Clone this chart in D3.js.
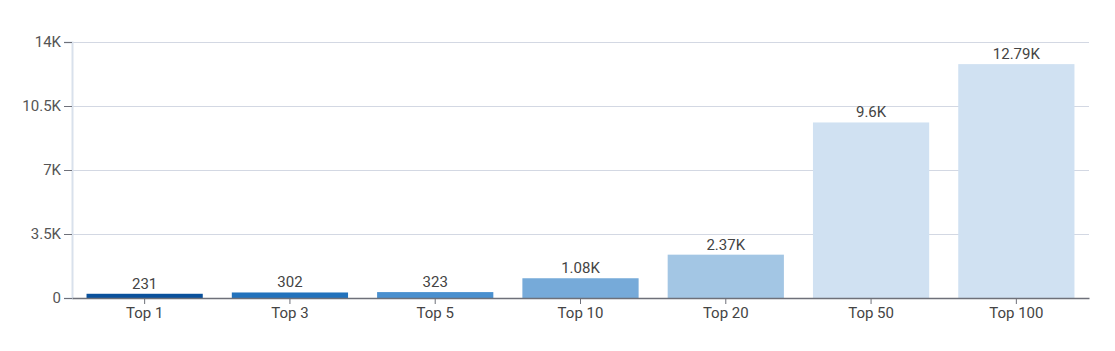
<!DOCTYPE html>
<html>
<head>
<meta charset="utf-8">
<script src="https://cdn.jsdelivr.net/npm/d3@7"></script>
<style>
  body { margin: 0; background: #fff; }
  text { font-family: Roboto, "Noto Sans", sans-serif; }
</style>
</head>
<body>
<div id="chart"></div>
<script>
// data
const categories = ["Top 1", "Top 3", "Top 5", "Top 10", "Top 20", "Top 50", "Top 100"];
const values = [231, 302, 323, 1080, 2370, 9600, 12790];
const barColors = ["#0a519c", "#2272bc", "#4a90cf", "#76aad9", "#a3c6e4", "#d0e1f2", "#d0e1f2"];
const yTicks = [0, 3500, 7000, 10500, 14000];

const width = 1115, height = 351;
const margin = { top: 42, right: 26, bottom: 53, left: 72 };
const innerW = width - margin.left - margin.right;
const innerH = height - margin.top - margin.bottom;

const svg = d3.select("#chart").append("svg")
    .attr("width", width)
    .attr("height", height);

const g = svg.append("g")
    .attr("transform", `translate(${margin.left},${margin.top})`);

const x = d3.scaleBand()
    .domain(categories)
    .range([0, innerW])
    .paddingInner(0.2)
    .paddingOuter(0.1);

const y = d3.scaleLinear()
    .domain([0, 14000])
    .range([innerH, 0]);

const fmt = v => {
    if (v === 0) return "0";
    if (v >= 1000) return (v / 1000).toString() + "K";
    return v.toString();
};

// gridlines
g.append("g")
    .selectAll("line")
    .data(yTicks.filter(t => t > 0))
    .join("line")
    .attr("x1", 0)
    .attr("x2", innerW)
    .attr("y1", d => Math.round(y(d)) + 0.5)
    .attr("y2", d => Math.round(y(d)) + 0.5)
    .attr("stroke", "#d3d8e3")
    .attr("stroke-width", 1);

// y axis
const yAxis = g.append("g")
    .call(d3.axisLeft(y).tickValues(yTicks).tickFormat(fmt).tickSize(8).tickPadding(3));
yAxis.select(".domain").attr("stroke", "#d9e1ec").attr("stroke-width", 2);
yAxis.selectAll(".tick line").attr("stroke", "#6e7079");
yAxis.selectAll(".tick text")
    .attr("fill", "#555")
    .style("font-size", "15px");

// bars
g.selectAll(".bar")
    .data(values)
    .join("rect")
    .attr("class", "bar")
    .attr("x", (d, i) => x(categories[i]))
    .attr("y", d => y(d))
    .attr("width", x.bandwidth())
    .attr("height", d => innerH - y(d))
    .attr("fill", (d, i) => barColors[i]);

// value labels
g.selectAll(".val")
    .data(values)
    .join("text")
    .attr("class", "val")
    .attr("x", (d, i) => x(categories[i]) + x.bandwidth() / 2)
    .attr("y", d => y(d) - 5)
    .attr("text-anchor", "middle")
    .attr("fill", "#444")
    .style("font-size", "15px")
    .text(d => fmt(d >= 1000 ? Math.round(d / 10) * 10 : d));

// x axis
const xAxis = g.append("g")
    .attr("transform", `translate(0,${innerH})`)
    .call(d3.axisBottom(x).tickSize(6).tickPadding(3).tickSizeOuter(0));
xAxis.select(".domain").attr("stroke", "#6e7079").attr("stroke-width", 1.5);
xAxis.selectAll(".tick line").attr("stroke", "#6e7079");
xAxis.selectAll(".tick text")
    .attr("fill", "#444")
    .style("font-size", "15px");
</script>
</body>
</html>
